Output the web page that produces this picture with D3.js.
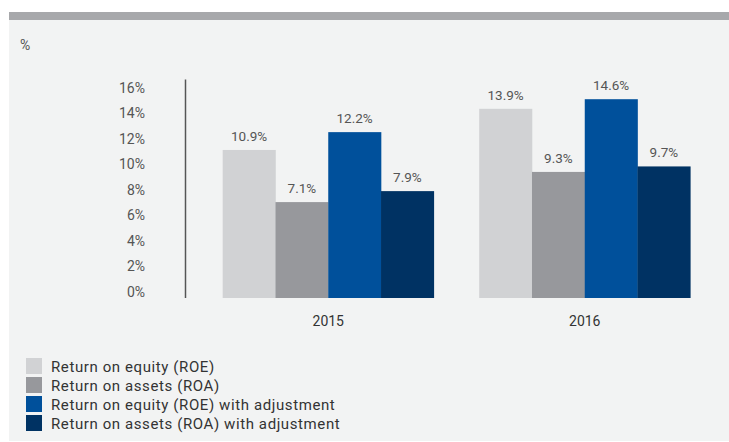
<!DOCTYPE html>
<html><head><meta charset="utf-8">
<script src="https://cdn.jsdelivr.net/npm/d3@7"></script>
<style>
html,body{margin:0;padding:0;background:#fff;}
svg{display:block;}
text{font-family:Roboto,"Liberation Sans",sans-serif;}
</style></head>
<body>
<script>
const years = ["2015", "2016"];
const seriesNames = ["Return on equity (ROE)", "Return on assets (ROA)", "Return on equity (ROE) with adjustment", "Return on assets (ROA) with adjustment"];
const seriesColors = ["#d1d2d4", "#97989c", "#00509b", "#003263"];
const roe = [10.9, 13.9];
const roa = [7.1, 9.3];
const roeAdj = [12.2, 14.6];
const roaAdj = [7.9, 9.7];
const yTicks = [0, 2, 4, 6, 8, 10, 12, 14, 16];

const seriesValues = [roe, roa, roeAdj, roaAdj];
const W = 729, H = 442;
const svg = d3.select("body").append("svg").attr("width", W).attr("height", H);

// panel
svg.append("rect").attr("x", 9).attr("y", 12).attr("width", W - 9).attr("height", 8).attr("fill", "#a7a8ab");
svg.append("rect").attr("x", 9).attr("y", 20).attr("width", W - 9).attr("height", H - 21).attr("fill", "#f2f3f3");

svg.append("text").attr("x", 20).attr("y", 50).attr("font-size", 14).attr("fill", "#555").text("%");

const baseY = 298;
const y = d3.scaleLinear().domain([0, 16]).range([299.5, 80]);
const yLab = d3.scaleLinear().domain([0, 16]).range([292, 88]);

// y axis line
svg.append("line").attr("x1", 185.5).attr("x2", 185.5).attr("y1", 79.5).attr("y2", baseY)
  .attr("stroke", "#555").attr("stroke-width", 1.5);

const axis = d3.axisLeft(yLab).tickValues(yTicks).tickFormat(d => d + "%").tickSize(0).tickPadding(0);
const gAx = svg.append("g").attr("transform", "translate(145,0)").call(axis);
gAx.select(".domain").remove();
gAx.selectAll("text").attr("font-size", 14).attr("fill", "#555").attr("font-family", "Roboto");

const x0 = d3.scaleBand().domain(years).range([200, 713]).paddingInner(0.177).paddingOuter(0.0885);
const x1 = d3.scaleBand().domain(d3.range(seriesNames.length)).range([0, x0.bandwidth()]).padding(0);

const groups = svg.selectAll("g.grp").data(years).join("g").attr("class", "grp")
  .attr("transform", d => `translate(${x0(d)},0)`);

groups.each(function(yr, yi) {
  const g = d3.select(this);
  const data = seriesValues.map((vals, si) => ({ si, v: vals[yi] }));
  g.selectAll("rect").data(data).join("rect")
    .attr("x", d => x1(d.si)).attr("width", x1.bandwidth() + 0.3)
    .attr("y", d => y(d.v)).attr("height", d => baseY - y(d.v))
    .attr("fill", d => seriesColors[d.si]);
  g.selectAll("text.val").data(data).join("text").attr("class", "val")
    .attr("x", d => x1(d.si) + x1.bandwidth() / 2).attr("y", d => y(d.v) - 9)
    .attr("text-anchor", "middle").attr("font-size", 13.5).attr("fill", "#555")
    .text(d => d.v.toFixed(1) + "%");
});

// category labels
const xAxis = d3.axisBottom(x0).tickSize(0).tickPadding(0);
const gx = svg.append("g").attr("transform", "translate(0,316)").call(xAxis);
gx.select(".domain").remove();
gx.selectAll("text").attr("font-size", 14).attr("fill", "#333").attr("font-family", "Roboto");

// legend
const leg = svg.append("g").attr("transform", "translate(26,358)");
const li = leg.selectAll("g").data(seriesNames).join("g").attr("transform", (d, i) => `translate(0,${i * 19})`);
li.append("rect").attr("width", 16).attr("height", 16).attr("fill", (d, i) => seriesColors[i]);
li.append("text").attr("x", 25).attr("y", 13.5).attr("font-size", 15).attr("fill", "#333")
  .attr("letter-spacing", 0.6).text(d => d);
</script>
</body></html>
